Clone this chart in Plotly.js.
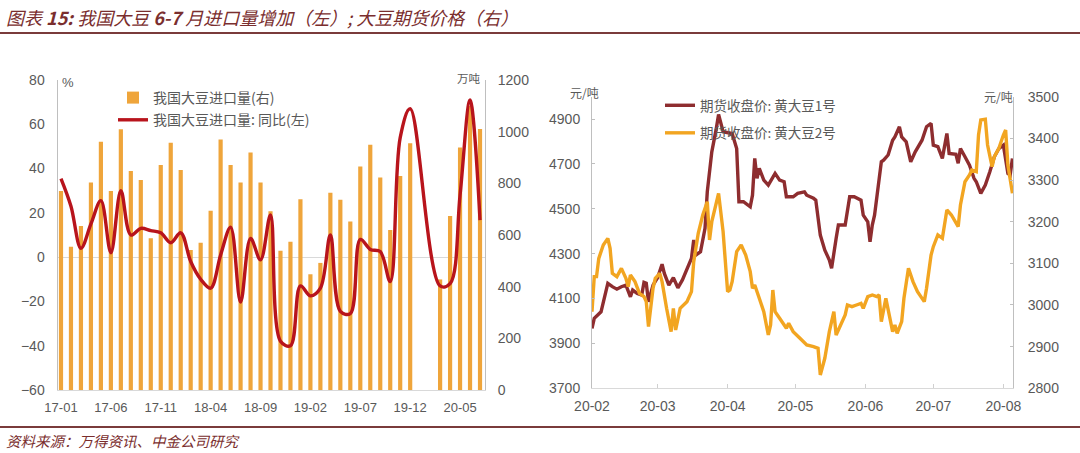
<!DOCTYPE html>
<html><head><meta charset="utf-8">
<script src="https://cdn.plot.ly/plotly-3.0.1.min.js"></script>
<style>html,body{margin:0;padding:0;background:#fff;}#chart{width:1080px;height:453px;}</style>
</head><body><div id="chart"></div>
<script>
// ---------- Left chart data: China soybean imports ----------
const months = ['17-01','17-02','17-03','17-04','17-05','17-06','17-07','17-08','17-09','17-10','17-11','17-12',
  '18-01','18-02','18-03','18-04','18-05','18-06','18-07','18-08','18-09','18-10','18-11','18-12',
  '19-01','19-02','19-03','19-04','19-05','19-06','19-07','19-08','19-09','19-10','19-11','19-12',
  '20-01','20-02','20-03','20-04','20-05','20-06','20-07'];
// 万吨 (right axis)
const importVolume = [770,555,635,803,961,770,1009,848,813,587,871,957,
  852,542,570,694,970,871,803,919,803,692,539,574,
  738,448,492,764,736,652,865,949,823,619,828,955,
  null,null,428,674,939,1100,1010];
// % YoY (left axis)
const importYoY = [35.5,23,4,15,25.5,2,30,10,13,12,11,6.5,
  11,-2,-10,-14,1,13.5,-20.3,8.4,-1.2,19,-38,-40,
  -13,-17.5,-14,10,-24.5,-25.5,8,3.5,2.5,-11,54,67,
  null,null,-13,-12,28,71,16.7];
const leftTickLabels = ['17-01','17-06','17-11','18-04','18-09','19-02','19-07','19-12','20-05'];

// ---------- Right chart data: soybean futures closing prices ----------
const soy1Dates = ['2020-02-01','2020-02-02','2020-02-05','2020-02-08','2020-02-10','2020-02-12','2020-02-14','2020-02-16','2020-02-18','2020-02-19',
  '2020-02-21','2020-02-23','2020-02-24','2020-02-25','2020-02-26','2020-02-28','2020-03-01','2020-03-03','2020-03-04','2020-03-06',
  '2020-03-08','2020-03-10','2020-03-12','2020-03-14','2020-03-16','2020-03-17','2020-03-18','2020-03-20','2020-03-22','2020-03-23',
  '2020-03-25','2020-03-27','2020-03-28','2020-03-30','2020-04-01','2020-04-03','2020-04-05','2020-04-06','2020-04-08','2020-04-11',
  '2020-04-12','2020-04-13','2020-04-14','2020-04-15','2020-04-17','2020-04-19','2020-04-22','2020-04-24','2020-04-26','2020-04-27',
  '2020-04-30','2020-05-02','2020-05-05','2020-05-06','2020-05-09','2020-05-10','2020-05-12','2020-05-14','2020-05-16','2020-05-17',
  '2020-05-19','2020-05-20','2020-05-23','2020-05-25','2020-05-27','2020-05-30','2020-05-31','2020-06-02','2020-06-03','2020-06-04',
  '2020-06-05','2020-06-06','2020-06-08','2020-06-09','2020-06-11','2020-06-13','2020-06-14','2020-06-16','2020-06-17','2020-06-19',
  '2020-06-21','2020-06-23','2020-06-26','2020-06-28','2020-06-30','2020-07-01','2020-07-03','2020-07-05','2020-07-07','2020-07-08',
  '2020-07-11','2020-07-12','2020-07-13','2020-07-15','2020-07-17','2020-07-19','2020-07-20','2020-07-22','2020-07-24','2020-07-26',
  '2020-07-28','2020-07-30','2020-08-01','2020-08-03','2020-08-04','2020-08-05'];
const soy1Price = [3967,4012,4041,4168,4153,4142,4153,4160,4108,4138,
  4123,4116,4172,4168,4086,4160,4193,4253,4212,4160,
  4193,4148,4183,4235,4279,4361,4294,4309,4413,4576,
  4754,4859,4921,4844,4840,4836,4769,4532,4532,4509,
  4561,4725,4636,4680,4628,4606,4658,4628,4621,4554,
  4554,4569,4576,4561,4547,4539,4383,4316,4272,4235,
  4368,4428,4428,4554,4554,4539,4472,4442,4353,4428,
  4472,4561,4710,4717,4740,4806,4821,4866,4821,4799,
  4710,4754,4806,4866,4881,4784,4777,4725,4836,4747,
  4743,4703,4769,4732,4695,4636,4621,4569,4606,4665,
  4732,4769,4784,4658,4651,4725];

const soy2Dates = ['2020-02-01','2020-02-02','2020-02-03','2020-02-04','2020-02-06','2020-02-08','2020-02-09','2020-02-10','2020-02-12','2020-02-14',
  '2020-02-16','2020-02-17','2020-02-18','2020-02-20','2020-02-22','2020-02-24','2020-02-25','2020-02-26','2020-02-28','2020-02-29',
  '2020-03-02','2020-03-03','2020-03-05','2020-03-07','2020-03-08','2020-03-09','2020-03-11','2020-03-13','2020-03-14','2020-03-16',
  '2020-03-17','2020-03-19','2020-03-21','2020-03-23','2020-03-24','2020-03-25','2020-03-27','2020-03-28','2020-03-30','2020-03-31',
  '2020-04-01','2020-04-02','2020-04-03','2020-04-05','2020-04-07','2020-04-09','2020-04-11','2020-04-12','2020-04-13','2020-04-15',
  '2020-04-17','2020-04-19','2020-04-20','2020-04-21','2020-04-22','2020-04-24','2020-04-27','2020-04-28','2020-04-30','2020-05-03',
  '2020-05-06','2020-05-09','2020-05-11','2020-05-12','2020-05-14','2020-05-16','2020-05-18','2020-05-19','2020-05-21','2020-05-23',
  '2020-05-24','2020-05-26','2020-05-28','2020-05-30','2020-05-31','2020-06-02','2020-06-04','2020-06-06','2020-06-07','2020-06-08',
  '2020-06-10','2020-06-11','2020-06-13','2020-06-14','2020-06-15','2020-06-17','2020-06-18','2020-06-20','2020-06-22','2020-06-24',
  '2020-06-27','2020-06-28','2020-06-30','2020-07-01','2020-07-03','2020-07-05','2020-07-06','2020-07-07','2020-07-09','2020-07-11',
  '2020-07-12','2020-07-13','2020-07-15','2020-07-17','2020-07-18','2020-07-20','2020-07-21','2020-07-22','2020-07-24','2020-07-25',
  '2020-07-27','2020-07-28','2020-07-30','2020-08-01','2020-08-02','2020-08-03','2020-08-04','2020-08-05'];
const soy2Price = [2984,3068,3068,3112,3144,3160,3136,3076,3068,3088,
  3064,3044,3072,3056,3028,3020,3008,2948,3040,3064,
  3076,3056,2992,2936,2992,2940,2992,3004,3008,3032,
  3104,3172,3216,3248,3156,3200,3248,3268,3176,3104,
  3032,3036,3056,3128,3144,3120,3080,3040,3048,3016,
  2984,2928,2952,3036,2984,2968,2944,2956,2936,2920,
  2904,2900,2896,2832,2872,2936,2984,2928,2952,2976,
  3000,2996,3000,3004,2992,3020,3024,3020,3024,2960,
  3016,2992,2936,2952,2932,2960,3016,3088,3056,3032,
  3008,3040,3120,3140,3168,3160,3192,3228,3216,3196,
  3188,3240,3296,3312,3324,3320,3408,3444,3446,3384,
  3332,3356,3376,3408,3420,3336,3300,3268];
const priceTickMonths = ['2020-02-01','2020-03-01','2020-04-01','2020-05-01','2020-06-01','2020-07-01','2020-08-01'];

// ---------- Layout helpers ----------
const W = 1080, H = 453;
const fx = x => x / W, fy = y => 1 - y / H;
const latin = 'Liberation Sans, Arial, sans-serif';
const cjk = '"Noto Sans CJK SC", "Noto Sans", sans-serif';
const grey = '#595959';
const tickFont = {family: latin, size: 14, color: grey};
const brown = '#7A2E2E';

const traces = [
  {type: 'bar', x: months, y: importVolume, xaxis: 'x', yaxis: 'y', name: '我国大豆进口量(右)',
   marker: {color: '#EFA53B'}, width: 0.42, legend: 'legend', legendgroup: 'a', hoverinfo: 'x+y'},
  {type: 'scatter', mode: 'lines', x: months, y: importYoY, xaxis: 'x', yaxis: 'y2', name: '我国大豆进口量: 同比(左)',
   line: {color: '#B8141C', width: 3.4, shape: 'spline', smoothing: 1}, connectgaps: true, legend: 'legend', legendgroup: 'b'},
  {type: 'scatter', mode: 'lines', x: soy1Dates, y: soy1Price, xaxis: 'x2', yaxis: 'y3', name: '期货收盘价: 黄大豆1号',
   line: {color: '#8E2D2F', width: 3.4}, legend: 'legend2', legendgroup: 'c'},
  {type: 'scatter', mode: 'lines', x: soy2Dates, y: soy2Price, xaxis: 'x2', yaxis: 'y4', name: '期货收盘价: 黄大豆2号',
   line: {color: '#F2A521', width: 3.4}, legend: 'legend2', legendgroup: 'd'}
];

const layout = {
  width: W, height: H, margin: {l: 0, r: 0, t: 0, b: 0},
  paper_bgcolor: '#ffffff', plot_bgcolor: 'rgba(0,0,0,0)',
  showlegend: true, bargap: 0.58,
  xaxis: {domain: [fx(57.5), fx(485)], type: 'category', range: [-0.35, 42.5], anchor: 'y',
    tickmode: 'array', tickvals: leftTickLabels, ticktext: leftTickLabels, ticks: '',
    showline: true, linecolor: '#D9D9D9', linewidth: 1, showgrid: false, zeroline: false,
    tickfont: {family: latin, size: 13, color: grey}, ticklabelstandoff: 5},
  yaxis: {domain: [fy(390), fy(80)], range: [0, 1200], dtick: 200, side: 'right', anchor: 'x',
    showline: true, linecolor: '#BFBFBF', linewidth: 1, showgrid: false, zeroline: false, ticks: '',
    tickfont: tickFont, ticklabelstandoff: 9},
  yaxis2: {overlaying: 'y', side: 'left', anchor: 'x', range: [-60, 80], dtick: 20,
    showline: true, linecolor: '#BFBFBF', linewidth: 1, showgrid: false,
    zeroline: true, zerolinecolor: '#D9D9D9', zerolinewidth: 1, ticks: '',
    tickfont: tickFont, ticklabelstandoff: 9},
  xaxis2: {domain: [fx(592), fx(1013)], type: 'date', range: ['2020-02-01', '2020-08-05 06:00'], anchor: 'y3',
    tickmode: 'array', tickvals: priceTickMonths, tickformat: '%y-%m', ticks: 'inside', ticklen: 4,
    tickcolor: '#D0D0D0', showline: true, linecolor: '#D9D9D9', linewidth: 1, showgrid: false, zeroline: false,
    tickfont: tickFont, ticklabelstandoff: 5},
  yaxis3: {domain: [fy(388.3), fy(96.7)], range: [3700, 5000], tickmode: 'array',
    tickvals: [3700, 3900, 4100, 4300, 4500, 4700, 4900], anchor: 'x2', side: 'left',
    showline: true, linecolor: '#BFBFBF', linewidth: 1, showgrid: false, zeroline: false,
    ticks: 'inside', ticklen: 3, tickcolor: '#BFBFBF', tickfont: tickFont, ticklabelstandoff: 8},
  yaxis4: {overlaying: 'y3', side: 'right', anchor: 'x2', range: [2800, 3500], dtick: 100,
    showline: true, linecolor: '#BFBFBF', linewidth: 1, showgrid: false, zeroline: false,
    ticks: 'inside', ticklen: 3, tickcolor: '#BFBFBF', tickfont: tickFont, ticklabelstandoff: 11},
  legend: {x: fx(113), y: fy(82), xanchor: 'left', yanchor: 'top', bgcolor: 'rgba(0,0,0,0)',
    font: {family: cjk, size: 14, color: grey}, traceorder: 'grouped', tracegroupgap: 1},
  legend2: {x: fx(660), y: fy(90), xanchor: 'left', yanchor: 'top', bgcolor: 'rgba(0,0,0,0)',
    font: {family: cjk, size: 13.5, color: grey}, traceorder: 'grouped', tracegroupgap: 7},
  annotations: [
    {xref: 'paper', yref: 'paper', x: fx(4), y: fy(17), xanchor: 'left', yanchor: 'middle', showarrow: false,
     text: '图表 <b>15:</b> 我国大豆 <b>6-7</b> 月进口量增加（左）; 大豆期货价格（右）',
     font: {family: cjk, size: 18, color: brown, style: 'italic'}},
    {xref: 'paper', yref: 'paper', x: fx(4), y: fy(440), xanchor: 'left', yanchor: 'middle', showarrow: false,
     text: '资料来源：万得资讯、中金公司研究', font: {family: cjk, size: 14.5, color: brown, style: 'italic'}},
    {xref: 'paper', yref: 'paper', x: fx(60), y: fy(82), xanchor: 'left', yanchor: 'middle', showarrow: false,
     text: '%', font: {family: latin, size: 13, color: grey}},
    {xref: 'paper', yref: 'paper', x: fx(483), y: fy(78), xanchor: 'right', yanchor: 'middle', showarrow: false,
     text: '万吨', font: {family: cjk, size: 11.5, color: grey}},
    {xref: 'paper', yref: 'paper', x: fx(584), y: fy(93), xanchor: 'center', yanchor: 'middle', showarrow: false,
     text: '元/吨', font: {family: cjk, size: 12, color: grey}},
    {xref: 'paper', yref: 'paper', x: fx(998), y: fy(97), xanchor: 'center', yanchor: 'middle', showarrow: false,
     text: '元/吨', font: {family: cjk, size: 12, color: grey}}
  ],
  shapes: [
    {type: 'line', xref: 'paper', yref: 'paper', x0: 0, x1: 1, y0: fy(33), y1: fy(33), line: {color: '#7A3B3B', width: 2}},
    {type: 'line', xref: 'paper', yref: 'paper', x0: 0, x1: 1, y0: fy(427), y1: fy(427), line: {color: '#7A3B3B', width: 2}}
  ]
};

Plotly.newPlot('chart', traces, layout, {displayModeBar: false, staticPlot: true});
</script>
</body></html>
